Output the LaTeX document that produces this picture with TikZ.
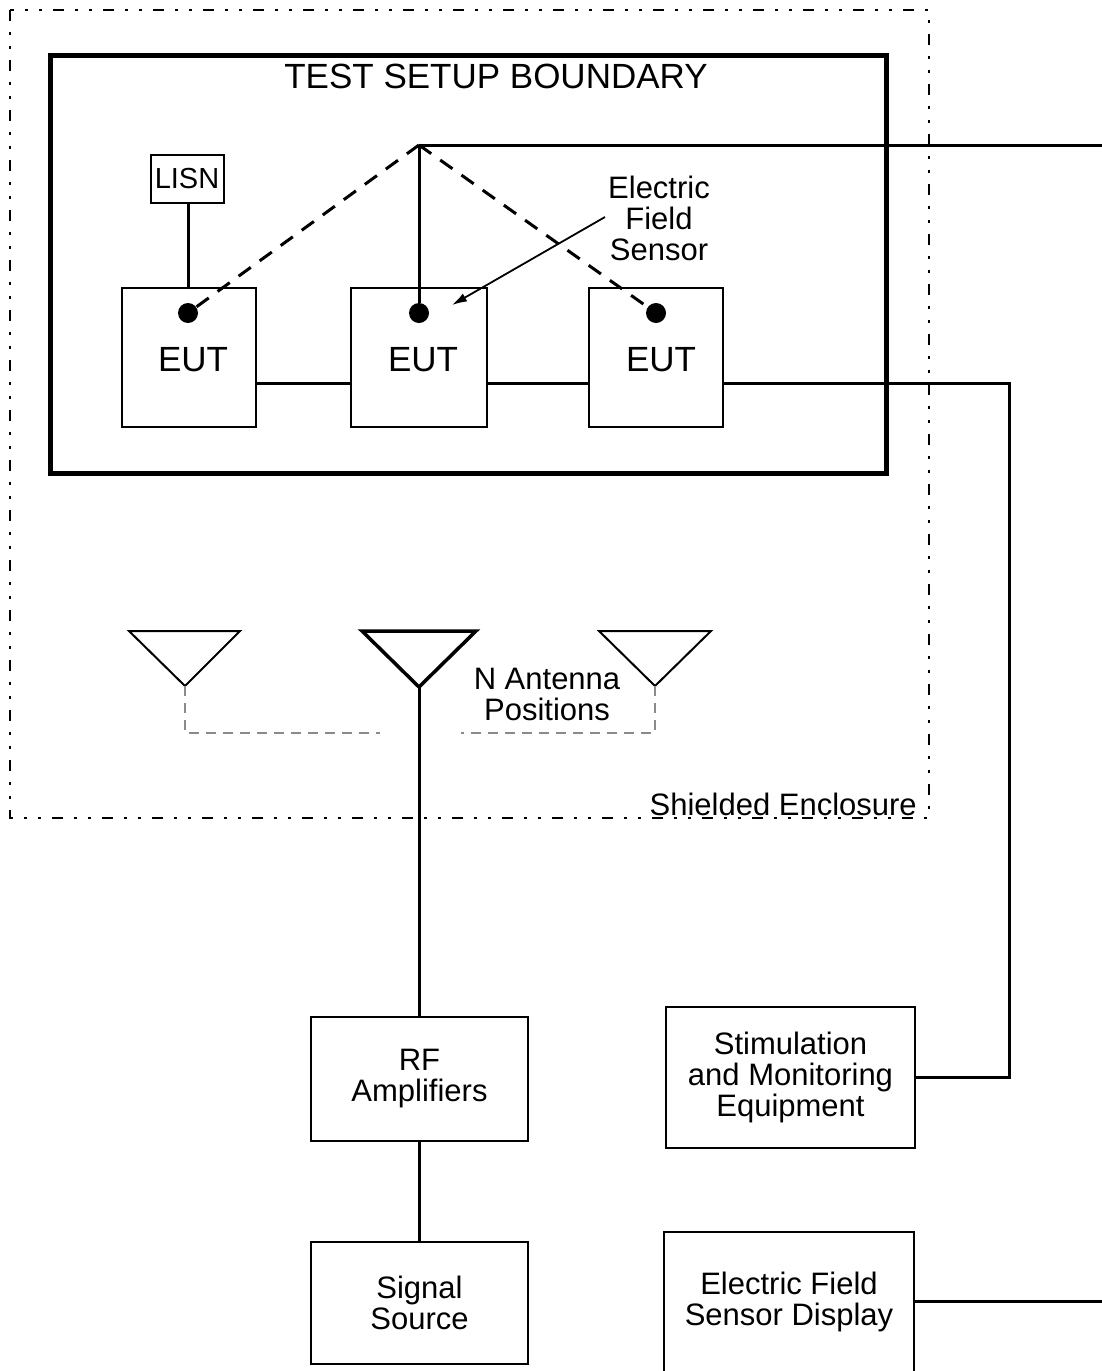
\documentclass[tikz,border=0pt]{standalone}
\usepackage{fontspec}
\setmainfont{Liberation Sans}
\usetikzlibrary{arrows.meta}
\definecolor{dashgray}{HTML}{8A8A8A}
\begin{document}
\begin{tikzpicture}[x=1pt,y=-1pt,
  box/.style={draw,line width=2pt,inner sep=0pt,align=center,font=\fontsize{31}{31}\selectfont},
  eut/.style={box,font=\fontsize{35}{35}\selectfont},
  wire/.style={line width=3pt},
  sensor/.style={circle,fill,inner sep=0pt,minimum size=20pt},
  dashw/.style={line width=3pt,dash pattern=on 15pt off 11pt},
  gdash/.style={line width=2.5pt,draw=dashgray,dash pattern=on 10pt off 7pt},
  encl/.style={line width=2pt,dash pattern=on 11pt off 11pt on 3pt off 11pt on 3pt off 11pt},
  lbl/.style={align=center,inner sep=0pt,font=\fontsize{31}{31}\selectfont}]
\useasboundingbox (0,0) rectangle (1102,1371);
\clip (0,0) rectangle (1102,1371);

% shielded enclosure
\draw[encl] (10,10) rectangle (929,818);
\node[lbl,anchor=base east] (shl) at (917,815) {Shielded Enclosure};

% test setup boundary
\draw[line width=5pt] (50,55) rectangle (886,473);
\node[lbl,font=\fontsize{35}{35}\selectfont] (title) at (496,76) {TEST SETUP BOUNDARY};

% LISN and EUTs
\node[box,font=\fontsize{29}{29}\selectfont,minimum width=73pt,minimum height=48pt] (lisn) at (187,179) {LISN};
\node[eut,minimum width=134pt,minimum height=139pt] (eut1) at (189,357.5) {};
\node[eut,minimum width=136pt,minimum height=139pt] (eut2) at (419,357.5) {};
\node[eut,minimum width=134pt,minimum height=139pt] (eut3) at (656,357.5) {};
\node[lbl,font=\fontsize{35}{35}\selectfont] (t1) at (193,360) {EUT};
\node[lbl,font=\fontsize{35}{35}\selectfont] (t2) at (423,360) {EUT};
\node[lbl,font=\fontsize{35}{35}\selectfont] (t3) at (661,360) {EUT};

\node[sensor] (d1) at (188,313) {};
\node[sensor] (d2) at (419,313) {};
\node[sensor] (d3) at (656,313) {};

\coordinate (bus) at (0,383);
\coordinate (rt) at (1009,383);
\coordinate (apex) at (419,145);
\coordinate (edgeA) at (1102,145);

\draw[wire] (lisn.south -| 188,0) -- (eut1.north -| 188,0);
\draw[wire] (eut1.east |- bus) -- (eut2.west |- bus);
\draw[wire] (eut2.east |- bus) -- (eut3.west |- bus);

\draw[wire] (apex) -- (edgeA);
\draw[wire] (apex) -- (d2);
\draw[dashw] (apex) -- (d1);
\draw[dashw] (apex) -- (d3);

% electric field sensor label
\node[lbl] (efs) at (659,218) {Electric\\Field\\Sensor};
\coordinate (efsa) at (605,217);
\coordinate (efsb) at (452,305);
\draw[line width=1.8pt,-{Latex[length=15pt,width=9pt]}] (efsa) -- (efsb);

% antennas
\coordinate (a1) at (185,686);
\coordinate (a2) at (419,687);
\coordinate (a3) at (655,686);
\draw[line width=2pt,line join=miter] (129,631) -- (240,631) -- (a1) -- cycle;
\draw[line width=3.5pt,line join=miter] (362,631) -- (476,631) -- (a2) -- cycle;
\draw[line width=2pt,line join=miter] (599,631) -- (711,631) -- (a3) -- cycle;
\coordinate (g1) at (185,733);
\coordinate (g1e) at (380,733);
\coordinate (g3) at (655,733);
\coordinate (g3e) at (461,733);
\draw[gdash] (a1) -- (g1) -- (g1e);
\draw[gdash] (a3) -- (g3) -- (g3e);
\node[lbl] (nant) at (547,694) {N Antenna\\Positions};

% lower equipment
\node[box,minimum width=217pt,minimum height=124pt] (rf) at (419.5,1079) {RF\\Amplifiers};
\node[box,minimum width=217pt,minimum height=122pt] (sig) at (419.5,1303) {Signal\\Source};
\node[box,minimum width=249pt,minimum height=141pt] (stim) at (790.5,1077.5) {Stimulation\\and Monitoring\\Equipment};
\node[box,minimum width=250pt,minimum height=140pt] (disp) at (789,1302) {Electric Field\\Sensor Display};

\draw[wire] (a2) -- (rf.north -| a2);
\draw[wire] (rf.south -| a2) -- (sig.north -| a2);
\draw[wire] (eut3.east |- bus) -- (rt) |- (stim.east);
\coordinate (edgeB) at (1102,1301);
\draw[wire] (disp.east |- edgeB) -- (edgeB);
\end{tikzpicture}
\end{document}
